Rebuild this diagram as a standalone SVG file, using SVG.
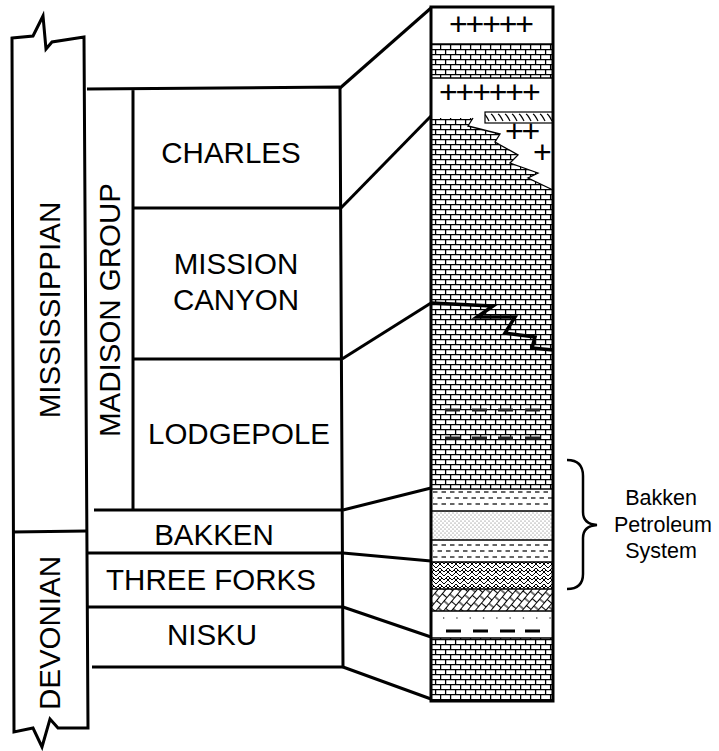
<svg xmlns="http://www.w3.org/2000/svg" width="719" height="751" viewBox="0 0 719 751">
<defs>
<style>
.ln{fill:none;stroke:#000;stroke-width:3;stroke-linejoin:miter}
.lbl{font-family:"Liberation Sans",Arial,sans-serif;font-size:29.5px;fill:#000;text-anchor:middle}
.sm{font-family:"Liberation Sans",Arial,sans-serif;font-size:21.5px;fill:#000;text-anchor:middle}
.plus{font-family:"Liberation Sans",Arial,sans-serif;font-size:32px;fill:#000;text-anchor:start;letter-spacing:-2.1px}
.thin{fill:none;stroke:#000;stroke-width:1.3}
.dash{fill:none;stroke:#333;stroke-width:1.6;stroke-dasharray:4.5 4}
.bdash{fill:none;stroke:#222;stroke-width:2.8}
</style>
<pattern id="brick" patternUnits="userSpaceOnUse" x="0" y="4" width="20" height="10">
<rect width="20" height="10" fill="#fff"/>
<path d="M0,0.6H20M0,5.6H20M0.6,0V5.6M10.6,0V5.6M5.6,5.6V10M15.6,5.6V10" stroke="#000" stroke-width="1.3" fill="none"/>
</pattern>
<pattern id="sand" patternUnits="userSpaceOnUse" width="4" height="4">
<rect width="4" height="4" fill="#fff"/>
<circle cx="1" cy="1" r="0.5" fill="#444"/>
<circle cx="3" cy="3" r="0.5" fill="#444"/>
</pattern>
<pattern id="herring" patternUnits="userSpaceOnUse" width="8" height="8">
<rect width="8" height="8" fill="#fff"/>
<path d="M0,0L4,4L8,0M0,4L4,8L8,4M2,2L0,4M6,2L8,4" stroke="#000" stroke-width="1" fill="none"/>
</pattern>
<pattern id="dolo" patternUnits="userSpaceOnUse" width="18" height="12" patternTransform="rotate(-50)">
<rect width="18" height="12" fill="#fff"/>
<path d="M0,0.5H18M0,6.5H18M0.5,0V6.5M9.5,0V6.5M5,6.5V12M14,6.5V12" stroke="#000" stroke-width="1.1" fill="none"/>
</pattern>
<pattern id="hatch" patternUnits="userSpaceOnUse" width="7" height="11" y="112">
<rect width="7" height="11" fill="#fff"/>
<path d="M1,2Q3,3 6,9" stroke="#000" stroke-width="1.2" fill="none"/>
</pattern>
</defs>

<rect width="719" height="751" fill="#fff"/>

<g id="mississippian">
<path class="ln" d="M12,38 L33,36 L43,16 L46,49 L52,42 L84,37 L88,728 L58,728 L50,719 L42,747 L33,728 L14,732 Z"/>
<text class="lbl" transform="translate(60,310) rotate(-90)">MISSISSIPPIAN</text>
</g>
<g id="devonian">
<path class="ln" d="M12,532 L87,531"/>
<text class="lbl" transform="translate(60,633) rotate(-90)">DEVONIAN</text>
</g>
<g id="madison-group">
<path class="ln" d="M87,89 L340,87 M133,89 L133,510 M340,87 L343,667"/>
<text class="lbl" transform="translate(120,310) rotate(-90)">MADISON GROUP</text>
</g>
<g id="charles">
<path class="ln" d="M133,208 L341,208"/>
<text class="lbl" x="231" y="163">CHARLES</text>
</g>
<g id="mission-canyon">
<path class="ln" d="M133,359 L342,359"/>
<text class="lbl" x="236" y="274">MISSION</text>
<text class="lbl" x="236" y="310">CANYON</text>
</g>
<g id="lodgepole">
<path class="ln" d="M94,510 L343,510"/>
<text class="lbl" x="239" y="444">LODGEPOLE</text>
</g>
<g id="bakken">
<path class="ln" d="M88,553 L343,553"/>
<text class="lbl" x="214" y="545">BAKKEN</text>
</g>
<g id="three-forks">
<path class="ln" d="M88,607 L343,607"/>
<text class="lbl" x="211" y="590">THREE FORKS</text>
</g>
<g id="nisku">
<path class="ln" d="M92,667 L343,667"/>
<text class="lbl" x="212" y="645">NISKU</text>
</g>

<g id="connectors">
<path class="ln" d="M340,88 L431,8"/>
<path class="ln" d="M341,208 L431,116"/>
<path class="ln" d="M342,359 L431,303"/>
<path class="ln" d="M343,510 L431,488"/>
<path class="ln" d="M343,553 L431,561"/>
<path class="ln" d="M343,607 L431,637"/>
<path class="ln" d="M343,667 L431,699"/>
</g>

<g id="column">
<rect x="431" y="7" width="122" height="694" fill="#fff"/>
<rect x="431" y="44" width="122" height="34" fill="url(#brick)"/>
<text class="plus" x="449" y="35">+++++</text>
<text class="plus" x="439" y="103">++++++</text>
<rect x="485" y="112" width="68" height="11" fill="url(#hatch)" stroke="#000" stroke-width="1.2"/>
<text class="plus" x="505" y="142">++</text>
<text class="plus" x="533" y="163">+</text>
<path d="M431,118 L473,118 L468,126 L500,134 L495,142 L518,155 L510,163 L538,173 L528,178 L553,190 L553,489 L431,489 Z" fill="url(#brick)"/>
<path class="thin" d="M473,118 L468,126 L500,134 L495,142 L518,155 L510,163 L538,173 L528,178 L553,190"/>
<path d="M431,303 L493,306 L477,317 L515,317 L505,333 L535,337 L532,348 L553,350" fill="none" stroke="#000" stroke-width="3.5" stroke-linejoin="miter"/>
<path class="bdash" d="M445,410H460M472,410H487M498,410H513M525,410H540M445,438H460M472,438H487M498,438H513M525,438H540"/>
<rect x="431" y="489" width="122" height="22" fill="#fff"/>
<path class="dash" d="M433,492H553"/>
<path class="dash" d="M433,498H553" stroke-dashoffset="4"/>
<path class="dash" d="M433,504H553"/>
<rect x="431" y="511" width="122" height="29" fill="url(#sand)"/>
<path class="dash" d="M433,545H553"/>
<path class="dash" d="M433,551H553" stroke-dashoffset="4"/>
<path class="dash" d="M433,557H553"/>
<rect x="431" y="562" width="122" height="27" fill="url(#herring)"/>
<rect x="431" y="589" width="122" height="22" fill="url(#dolo)"/>
<path d="M443,618H553" stroke="#555" stroke-width="1.4" stroke-dasharray="1.3 12"/>
<path d="M446,631H461M473,631H488M500,631H515M525,631H540" stroke="#000" stroke-width="3"/>
<rect x="431" y="638" width="122" height="63" fill="url(#brick)"/>
<path class="thin" d="M431,44H553M431,78H553M431,489H553M431,511H553M431,540H553M431,562H553M431,589H553M431,611H553M431,638H553"/>
<rect x="431" y="7" width="122" height="694" fill="none" stroke="#000" stroke-width="3"/>
</g>

<g id="bakken-petroleum-system">
<path d="M567,460 Q583,460 583,476 L583,512 Q583,524 597,525 Q583,526 583,538 L583,574 Q583,589 567,589" fill="none" stroke="#000" stroke-width="2.5"/>
<text class="sm" x="661" y="505">Bakken</text>
<text class="sm" x="663" y="532">Petroleum</text>
<text class="sm" x="661" y="558">System</text>
</g>
</svg>
